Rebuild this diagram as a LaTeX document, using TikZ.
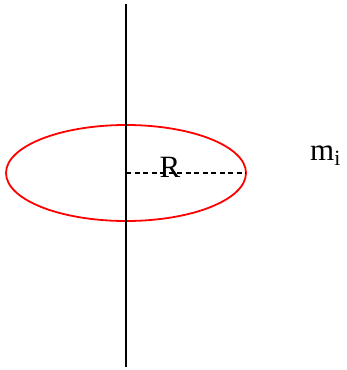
\documentclass[tikz,border=0pt]{standalone}
\usepackage{fontspec}
\setmainfont{Liberation Serif}
\begin{document}
\begin{tikzpicture}[x=1pt,y=-1pt,
  axisline/.style={line width=1.8pt,black},
  ring/.style={line width=1.8pt,red},
  radius line/.style={line width=1.5pt,dash pattern=on 5pt off 3.5pt},
  lbl/.style={inner sep=0pt,font=\fontsize{31}{31}\selectfont}]
\useasboundingbox (0,0) rectangle (347,370);
\coordinate (top) at (126,4);
\coordinate (bot) at (126,367);
\coordinate (c) at (126,173);
\coordinate (rim) at (246,173);
\draw[ring] (c) ellipse [x radius=120, y radius=48];
\draw[axisline] (top) -- (bot);
\draw[radius line] (c) -- (rim);
\node[lbl,anchor=base] (R) at (170,177) {R};
\node[lbl,anchor=base west] (m) at (310,160) {m\textsubscript{i}};
\end{tikzpicture}
\end{document}
